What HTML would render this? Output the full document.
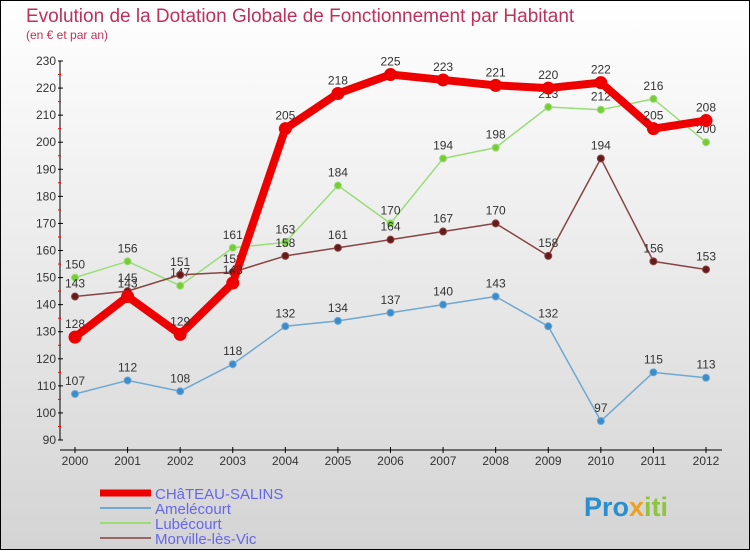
<!DOCTYPE html>
<html><head><meta charset="utf-8"><style>
body{margin:0}
#c{width:750px;height:550px;position:relative;font-family:"Liberation Sans","DejaVu Sans",sans-serif;}
</style></head><body>
<div id="c">
<svg id="s" width="750" height="550" xmlns="http://www.w3.org/2000/svg">
<defs><linearGradient id="bg" x1="0" y1="0" x2="0" y2="1"><stop offset="0" stop-color="#ffffff"/><stop offset="1" stop-color="#d4d4d4"/></linearGradient></defs>
<rect x="0.5" y="0.5" width="749" height="549" fill="url(#bg)" stroke="#000"/>
<text x="26" y="22" font-size="19" fill="#c0305a">Evolution de la Dotation Globale de Fonctionnement par Habitant</text>
<text x="26" y="39" font-size="12" fill="#c0305a">(en € et par an)</text>
<g id="axes"></g><g id="series"></g><g id="legend"></g>
<text x="584" y="516" font-size="27" font-weight="bold" fill="#2a8fd0">Pro<tspan fill="#f0a020">x</tspan><tspan fill="#8cc63f">iti</tspan></text>
</svg></div>
<script>
const years=[2000,2001,2002,2003,2004,2005,2006,2007,2008,2009,2010,2011,2012];
const yTicks=[90,100,110,120,130,140,150,160,170,180,190,200,210,220,230];
const chateau=[128,143,129,148,205,218,225,223,221,220,222,205,208];
const amel=[107,112,108,118,132,134,137,140,143,132,97,115,113];
const lube=[150,156,147,161,163,184,170,194,198,213,212,216,200];
const morv=[143,145,151,152,158,161,164,167,170,158,194,156,153];
const seriesNames=["CHâTEAU-SALINS","Amelécourt","Lubécourt","Morville-lès-Vic"];
const NS="http://www.w3.org/2000/svg";
function X(i){return 75+i*(706-75)/12;}
function Y(v){return 440-(v-90)*(379/140);}
function mk(p,tag,a){const e=document.createElementNS(NS,tag);for(const k in a)e.setAttribute(k,a[k]);p.appendChild(e);return e;}
const ax=document.getElementById('axes');
const yl=mk(ax,'line',{x1:60,y1:Y(230),x2:60,y2:Y(90),stroke:'#000'});


yTicks.forEach(v=>{
 mk(ax,'line',{x1:58,y1:Y(v),x2:63,y2:Y(v),stroke:'#000'});
 if(v<230) mk(ax,'line',{x1:58,y1:Y(v+5),x2:61,y2:Y(v+5),stroke:'#f00'});
 const t=mk(ax,'text',{x:56,y:Y(v)+4,'font-size':12,fill:'#333','text-anchor':'end'});t.textContent=v;
 
 
});
const xl=mk(ax,'line',{x1:60,y1:450,x2:722,y2:450,stroke:'#000'});


years.forEach((y,i)=>{
 mk(ax,'line',{x1:X(i),y1:447,x2:X(i),y2:453,stroke:'#000'});
 const t=mk(ax,'text',{x:X(i),y:465,'font-size':12,fill:'#333','text-anchor':'middle'});t.textContent=y;
 
 
});
const sg=document.getElementById('series');
function draw(data,color,w,r,dot,name){
 const g=mk(sg,'g',{});
 
 
 mk(g,'polyline',{points:data.map((v,i)=>X(i)+','+Y(v)).join(' '),fill:'none',stroke:color,'stroke-width':w,'stroke-linejoin':'round'});
 data.forEach((v,i)=>{
  const c=mk(g,'circle',{cx:X(i),cy:Y(v),r:r,fill:dot,stroke:color,'stroke-width':1});
  
  
  const t=mk(g,'text',{x:X(i),y:Y(v)-9,'font-size':12,fill:'#333','text-anchor':'middle'});t.textContent=v;
  
  
 });
}
draw(amel,'#6fa8d0',1.5,3.5,'#3a8ccc','amelecourt-series');
draw(lube,'#99dd77',1.5,3.5,'#77cc33','lubecourt-series');
draw(morv,'#884444',1.5,3.5,'#661a1a','morville-series');
draw(chateau,'#ee0000',8,6,'#ee0000','chateau-salins-series');
const lg=document.getElementById('legend');
const cols=['#ee0000','#6fa8d0','#99dd77','#996666'],ws=[7,2,2,2];
seriesNames.forEach((n,i)=>{
 const y=493+i*15;
 const l=mk(lg,'line',{x1:100,y1:y,x2:151,y2:y,stroke:cols[i],'stroke-width':ws[i]});
 
 
 const t=mk(lg,'text',{x:155,y:y+6,'font-size':15,fill:'#6666ee'});t.textContent=n;
 
 
});
</script>
</body></html>
